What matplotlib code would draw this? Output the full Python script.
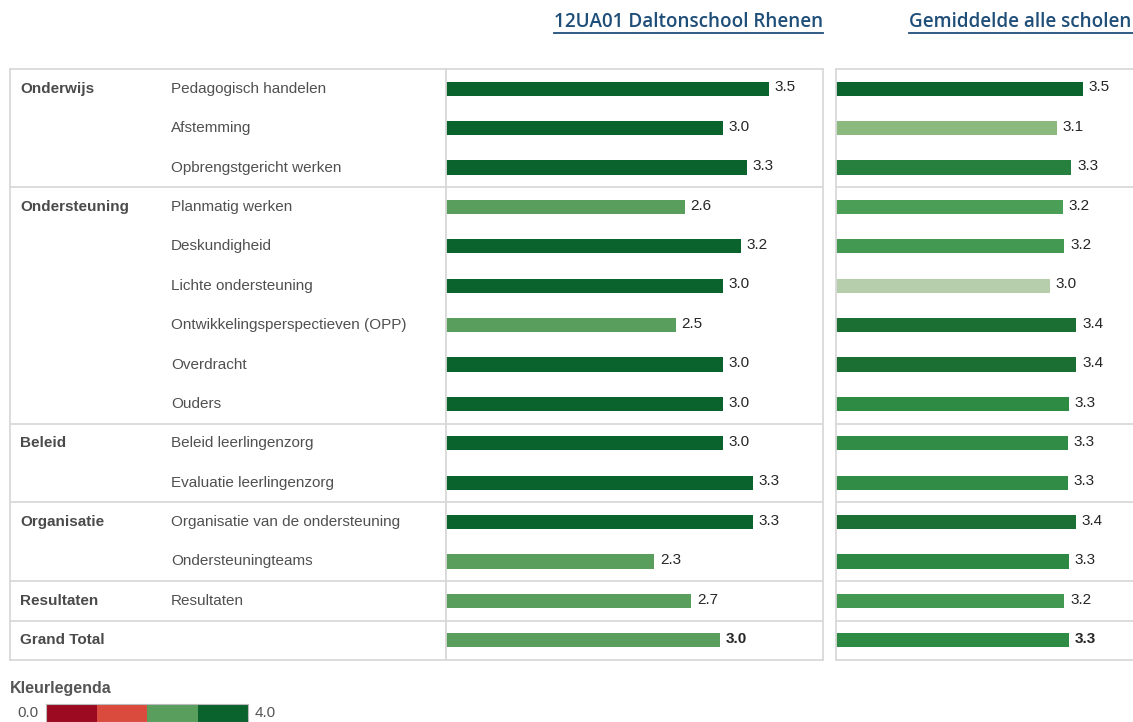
import matplotlib
matplotlib.use('Agg')
import matplotlib.pyplot as plt
from matplotlib.colors import ListedColormap, BoundaryNorm, LinearSegmentedColormap, Normalize
from matplotlib.lines import Line2D

plt.rcParams['font.family'] = ['Liberation Sans', 'DejaVu Sans']

# --- data ---
groups = ['Onderwijs', 'Ondersteuning', 'Beleid', 'Organisatie', 'Resultaten', 'Grand Total']
group_sizes = [3, 6, 2, 2, 1, 1]
items = ['Pedagogisch handelen', 'Afstemming', 'Opbrengstgericht werken',
         'Planmatig werken', 'Deskundigheid', 'Lichte ondersteuning',
         'Ontwikkelingsperspectieven (OPP)', 'Overdracht', 'Ouders',
         'Beleid leerlingenzorg', 'Evaluatie leerlingenzorg',
         'Organisatie van de ondersteuning', 'Ondersteuningteams',
         'Resultaten', '']
school = [3.50, 3.00, 3.26, 2.59, 3.20, 3.00, 2.49, 3.00, 3.00,
          3.00, 3.33, 3.33, 2.26, 2.66, 2.97]
average = [3.50, 3.14, 3.34, 3.22, 3.24, 3.03, 3.41, 3.41, 3.30,
           3.29, 3.29, 3.40, 3.31, 3.24, 3.30]
titles = ['12UA01 Daltonschool Rhenen', 'Gemiddelde alle scholen']
legend_bounds = [0, 1, 2, 3, 4]
legend_colors = ['#9b0a21', '#db4b3d', '#5a9e5e', '#0a622d']

W, H = 1133, 722
fig = plt.figure(figsize=(W / 100, H / 100), dpi=100)


def rect(x0, y0, x1, y1):
    return [x0 / W, 1 - y1 / H, (x1 - x0) / W, (y1 - y0) / H]


n = len(items)
grid_col = '#d9d9d9'
seps = []
acc = 0
for s in group_sizes[:-1]:
    acc += s
    seps.append(acc - 0.5)

step_cmap = ListedColormap(legend_colors)
step_norm = BoundaryNorm(legend_bounds, step_cmap.N)
avg_cmap = LinearSegmentedColormap.from_list(
    'avg', [(0.0, '#c2d4ba'), (0.28, '#8cb97d'), (0.44, '#4a9e55'),
            (0.6, '#2e8b44'), (0.8, '#1d7034'), (1.0, '#0b632e')])
avg_norm = Normalize(3.0, 3.5)

# label columns
ax_lab = fig.add_axes(rect(10, 69, 446, 660))
ax_lab.set_xlim(0, 436)
ax_lab.set_ylim(n - 0.5, -0.5)
row = 0
for g, s in zip(groups, group_sizes):
    ax_lab.text(10, row, g, va='center', ha='left', fontsize=11,
                fontweight='bold', color='#4a4a4a')
    row += s
for i, it in enumerate(items):
    ax_lab.text(161, i, it, va='center', ha='left', fontsize=11, color='#505050')

ax_l = fig.add_axes(rect(446, 69, 823, 660), sharey=ax_lab)
ax_l.set_xlim(0, (823 - 446) / 92.2)
ax_l.barh(range(n), school, height=0.36, color=step_cmap(step_norm(school)),
          edgecolor='none')

ax_r = fig.add_axes(rect(836, 69, 1133, 660), sharey=ax_lab)
ax_r.set_xlim(0, (1133 - 836) / 70.5)
ax_r.barh(range(n), average, height=0.36, color=avg_cmap(avg_norm(average)),
          edgecolor='none')

for ax, vals in ((ax_l, school), (ax_r, average)):
    for i, v in enumerate(vals):
        ax.annotate(f'{v:.1f}', (v, i), xytext=(4, 1), textcoords='offset points',
                    va='center', ha='left', fontsize=11, color='#262626',
                    fontweight='bold' if i == n - 1 else 'normal')

for ax in (ax_lab, ax_l, ax_r):
    ax.set_xticks([])
    ax.set_yticks([])
    for sp in ax.spines.values():
        sp.set_color(grid_col)
        sp.set_linewidth(1.3)
    for y in seps:
        ax.axhline(y, color=grid_col, lw=1.3)
ax_r.spines['right'].set_visible(False)
ax_lab.set_ylim(n - 0.5, -0.5)

# headers
for (x0, x1), t in zip([(554, 823), (909, 1133)], titles):
    fig.text(x0 / W, 1 - 22 / H, t, ha='left', va='center', fontsize=13.6,
             color='#1f4e79', family=['Open Sans'], fontweight='semibold')
    fig.add_artist(Line2D([x0 / W, x1 / W], [1 - 33 / H] * 2, color='#1f4e79', lw=1.3))

# color legend
fig.text(10 / W, 1 - 689 / H, 'Kleurlegenda', ha='left', va='center',
         fontsize=11.5, fontweight='bold', color='#555555')
ax_leg = fig.add_axes(rect(46, 704, 248, 722))
ax_leg.barh(0, [1] * 4, left=legend_bounds[:-1], height=1, color=legend_colors)
ax_leg.set_xlim(0, 4)
ax_leg.set_ylim(-0.5, 0.5)
ax_leg.set_xticks([])
ax_leg.set_yticks([])
for sp in ax_leg.spines.values():
    sp.set_color('#bbbbbb')
fig.text(38 / W, 1 - 713 / H, f'{legend_bounds[0]:.1f}', ha='right', va='center',
         fontsize=11, color='#555555')
fig.text(255 / W, 1 - 713 / H, f'{legend_bounds[-1]:.1f}', ha='left', va='center',
         fontsize=11, color='#555555')

fig.savefig('out.png', dpi=100)
